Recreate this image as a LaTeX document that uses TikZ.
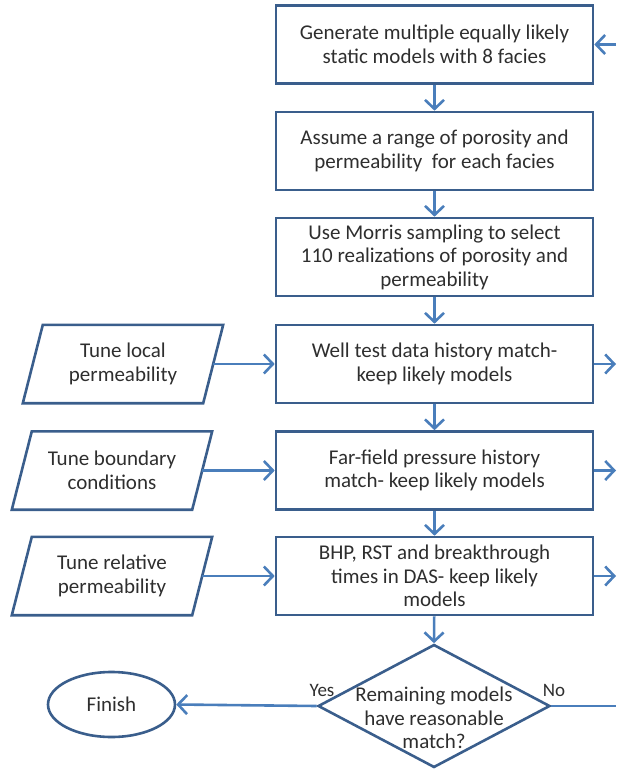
\documentclass[tikz,border=0pt]{standalone}
\usepackage{fontspec}
\setmainfont{Carlito}
\usetikzlibrary{arrows.meta,shapes.geometric}
\definecolor{outl}{HTML}{3A5E8C}
\definecolor{arr}{HTML}{4A7EBB}
\definecolor{txt}{HTML}{2E2E2E}
\tikzset{
  procbox/.style={draw=outl, line width=2.6pt, minimum width=317pt, minimum height=78pt, inner sep=0pt, align=center, text=txt, font=\fontsize{21}{23.5}\selectfont},
  parabox/.style={minimum width=180pt, minimum height=78pt, inner sep=0pt, align=center, text=txt, font=\fontsize{21}{23.5}\selectfont},
  paraline/.style={draw=outl, line width=2.6pt, line join=miter},
  flow/.style={draw=arr, line width=2.6pt, -{Straight Barb[length=9pt,width=19pt,line width=2.6pt]}},
  plainflow/.style={draw=arr, line width=2.6pt},
  lbl/.style={text=txt, font=\fontsize{19}{21}\selectfont, inner sep=0pt}
}
\begin{document}
\begin{tikzpicture}[x=1pt,y=-1pt]
\useasboundingbox (0,0) rectangle (616,771);
\node[procbox] (b1) at (434.5,44.5) {Generate multiple equally likely\\static models with 8 facies};
\node[procbox] (b2) at (434.5,151) {Assume a range of porosity and\\permeability\ \ for each facies};
\node[procbox] (b3) at (434.5,257) {Use Morris sampling to select\\110 realizations of porosity and\\permeability};
\node[procbox] (b4) at (434.5,364) {Well test data history match-\\keep likely models};
\node[procbox] (b5) at (434.5,470.5) {Far-field pressure history\\match- keep likely models};
\node[procbox] (b6) at (434.5,576) {BHP, RST and breakthrough\\times in DAS- keep likely\\models};
% parallelograms
\node[parabox] (p1) at (123,364) {Tune local\\permeability};
\node[parabox] (p2) at (112,470.5) {Tune boundary\\conditions};
\node[parabox] (p3) at (112,576) {Tune relative\\permeability};
\foreach \p in {p1,p2,p3}{
  \draw[paraline] ([xshift=10pt]\p.north west) -- ([xshift=10pt]\p.north east) -- ([xshift=-10pt]\p.south east) -- ([xshift=-10pt]\p.south west) -- cycle;
}
% decision
\node[diamond, draw=outl, line width=2.6pt, minimum width=232pt, minimum height=123pt, inner sep=0pt] (d) at (434,706) {};
\node[align=center, text=txt, font=\fontsize{21}{23.5}\selectfont, inner sep=0pt] (dt) at (434,718) {Remaining models\\have reasonable\\match?};
\node[ellipse, draw=outl, line width=2.6pt, minimum width=127pt, minimum height=65pt, inner sep=0pt, text=txt, font=\fontsize{21}{23.5}\selectfont] (fin) at (111.5,704.5) {Finish};
\node[lbl] (yes) at (322,690) {Yes};
\node[lbl] (no) at (554,690) {No};
% free ends
\coordinate (r1) at (616,44.5);
\coordinate (r4) at (616,364);
\coordinate (r5) at (616,470.5);
\coordinate (r6) at (616,576);
\coordinate (rd) at (616,706);
% connectors
\draw[flow] (b1) -- (b2);
\draw[flow] (b2) -- (b3);
\draw[flow] (b3) -- (b4);
\draw[flow] (b4) -- (b5);
\draw[flow] (b5) -- (b6);
\draw[flow] (b6) -- (d.north);
\draw[flow] (r1) -- (b1.east);
\draw[flow] (b4.east) -- (r4);
\draw[flow] (b5.east) -- (r5);
\draw[flow] (b6.east) -- (r6);
\draw[flow] (p1.east) -- (b4.west);
\draw[flow] (p2.east) -- (b5.west);
\draw[flow] (p3.east) -- (b6.west);
\draw[flow] (d.west) -- (fin.east);
\draw[plainflow] (d.east) -- (rd);
\end{tikzpicture}
\end{document}
